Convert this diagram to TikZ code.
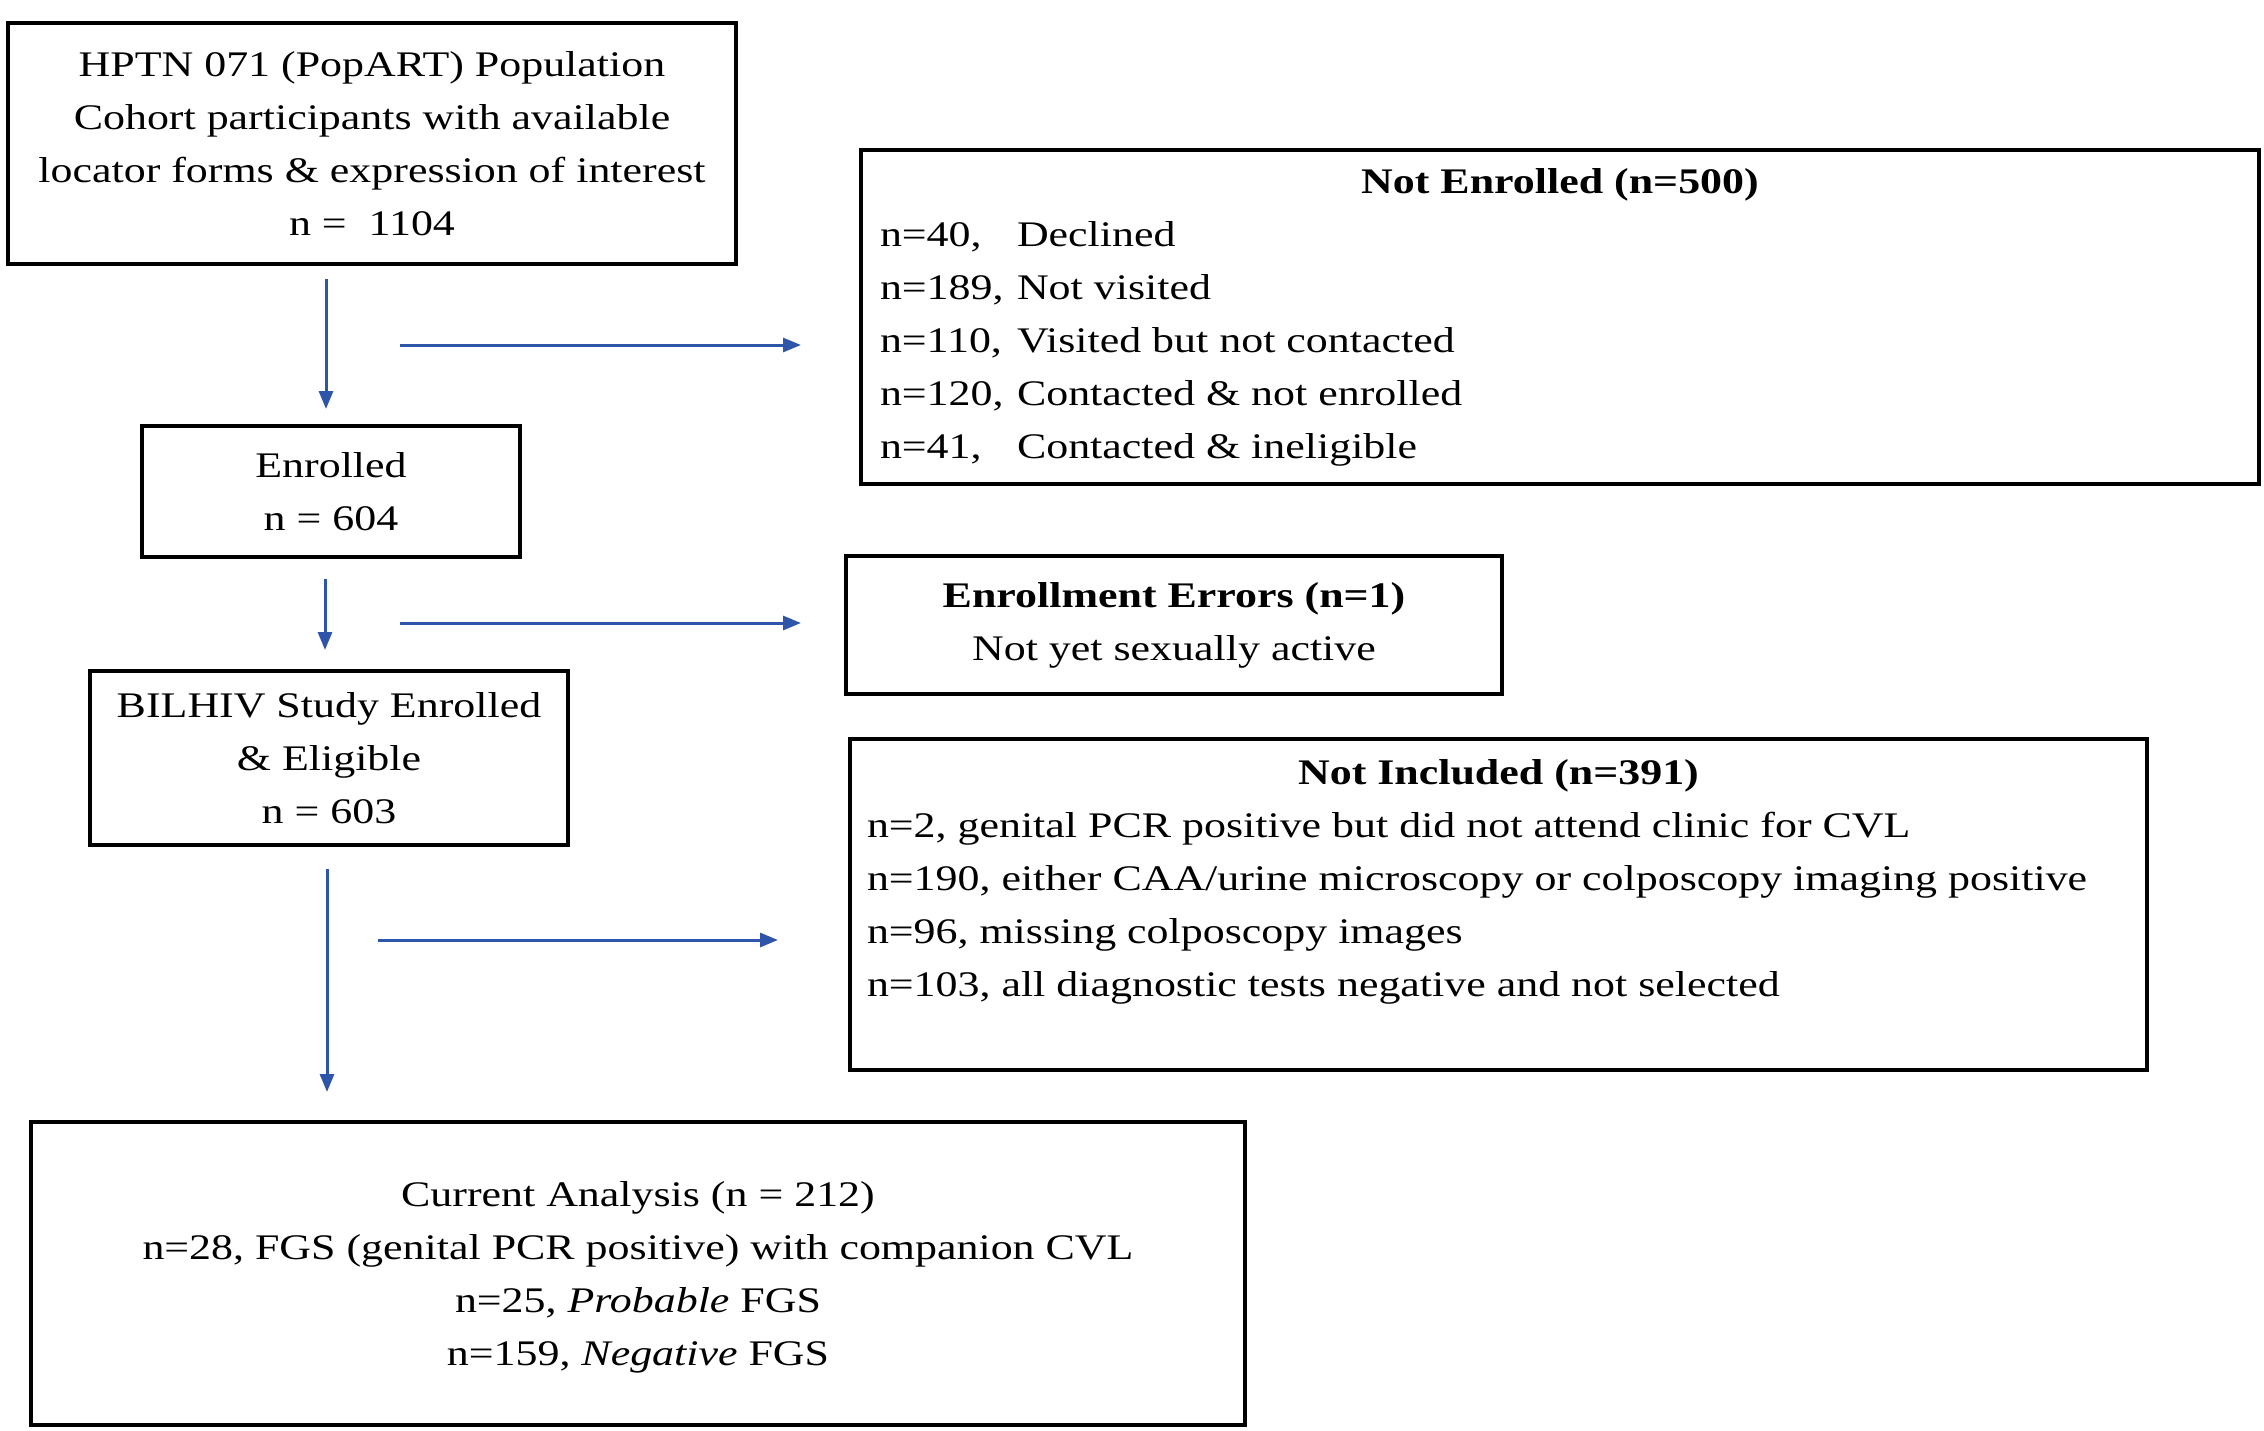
\documentclass[tikz,border=0pt]{standalone}
\usepackage{fontspec}
\setmainfont{Liberation Serif}[FakeStretch=1.22]
\usetikzlibrary{arrows.meta,positioning}
\definecolor{flowblue}{RGB}{47,85,170}
\newcommand{\cnt}[1]{\makebox[137pt][l]{#1}}

\begin{document}
\begin{tikzpicture}[x=1pt,y=-1pt,
	every node/.style={font=\fontsize{36}{53}\selectfont},
	box/.style={draw=black,line width=4pt,align=center,inner sep=0pt},
	listbox/.style={box,align=left,inner xsep=19pt},
	flow/.style={draw=flowblue,line width=3pt,-{Triangle[length=18pt,width=14pt]}}]
	
	\useasboundingbox (0,0) rectangle (2264,1430);
	
	% main column
	\node[box,minimum width=728pt,minimum height=241pt] (cohort) at (372,143.5)
	{HPTN 071 (PopART) Population\\Cohort participants with available\\locator forms \& expression of interest\\n = ~1104};
	\node[box,minimum width=378pt,minimum height=131pt] (enrolled) at (331,491.5)
	{Enrolled\\n = 604};
	\node[box,minimum width=478pt,minimum height=174pt] (bilhiv) at (329,758)
	{BILHIV Study Enrolled\\\& Eligible\\n = 603};
	\node[box,minimum width=1214pt,minimum height=303pt,text depth=0pt] (current) at (638,1273.5)
	{Current Analysis (n = 212)\\n=28, FGS (genital PCR positive) with companion CVL\\n=25, \textit{Probable} FGS\\n=159, \textit{Negative} FGS};
	
	% exclusions
	\node[listbox,minimum width=1398pt,minimum height=334pt] (notenr) at (1560,317)
	{\makebox[1360pt]{\textbf{Not Enrolled (n=500)}}\\
		\cnt{n=40,}Declined\\
		\cnt{n=189,}Not visited\\
		\cnt{n=110,}Visited but not contacted\\
		\cnt{n=120,}Contacted \& not enrolled\\
		\cnt{n=41,}Contacted \& ineligible};
	\node[box,minimum width=656pt,minimum height=138pt] (errors) at (1174,625)
	{\textbf{Enrollment Errors (n=1)}\\Not yet sexually active};
	\node[listbox,inner xsep=17pt,minimum width=1297pt,minimum height=331pt] (notinc) at (1498.5,904.5)
	{\makebox[1263pt]{\textbf{Not Included (n=391)}}\\
		n=2, genital PCR positive but did not attend clinic for CVL\\
		n=190, either CAA/urine microscopy or colposcopy imaging positive\\
		n=96, missing colposcopy images\\
		n=103, all diagnostic tests negative and not selected\\
		\mbox{}};
	
	% arrows
	\draw[flow] ([xshift=-5pt,yshift=-13pt]cohort.south -| enrolled.north) -- ([xshift=-5pt,yshift=15pt]enrolled.north);
	\draw[flow] ([xshift=-6pt,yshift=-20pt]enrolled.south) -- ([xshift=-6pt,yshift=19pt]bilhiv.north -| enrolled.south);
	\draw[flow] ([xshift=-2pt,yshift=-22pt]bilhiv.south) -- ([xshift=-2pt,yshift=28pt]current.north -| bilhiv.south);
	
	\coordinate (out1) at (400,345);
	\coordinate (out2) at (400,623);
	\coordinate (out3) at (378,940);
	\draw[flow,shorten >=58pt] (out1) -- (out1 -| notenr.west);
	\draw[flow,shorten >=43pt] (out2) -- (out2 -| errors.west);
	\draw[flow,shorten >=70pt] (out3) -- (out3 -| notinc.west);
\end{tikzpicture}
\end{document}
